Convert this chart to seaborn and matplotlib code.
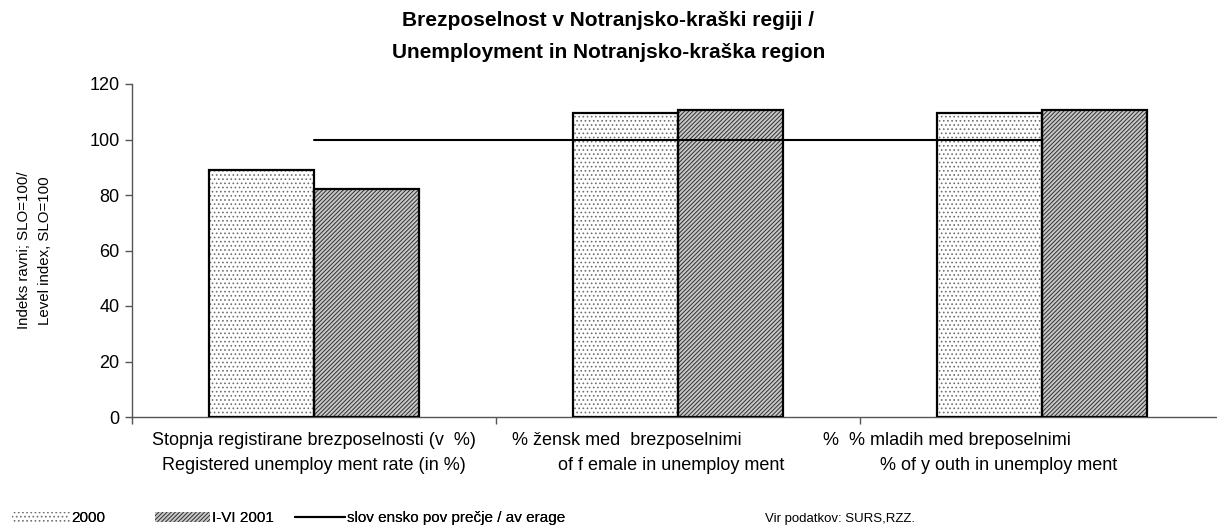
import matplotlib
matplotlib.use("Agg")
import matplotlib.pyplot as plt
from matplotlib.patches import Rectangle, Patch
from matplotlib.lines import Line2D
import seaborn as sns
import pandas as pd

# ---- data ----
categories = ["Stopnja", "Zenske", "Mladi"]
series_names = ["2000", "I-VI 2001"]
values_2000 = [89.0, 109.5, 109.5]
values_2001 = [82.2, 110.6, 110.6]
slo_average = [100, 100, 100]
cat_label_line1 = ["Stopnja registirane brezposelnosti (v  %)",
                   "% žensk med  brezposelnimi",
                   "%  % mladih med breposelnimi"]
cat_label_line2 = ["Registered unemploy ment rate (in %)",
                   "of f emale in unemploy ment",
                   "% of y outh in unemploy ment"]
title_lines = ["Brezposelnost v Notranjsko-kraški regiji /",
               "Unemployment in Notranjsko-kraška region"]
ylabel = "Indeks ravni; SLO=100/\nLevel index, SLO=100"
line_label = "slov ensko pov prečje / av erage"
source_text = "Vir podatkov: SURS,RZZ."
yticks = [0, 20, 40, 60, 80, 100, 120]

df = pd.DataFrame({
    "cat": categories * 2,
    "series": [series_names[0]] * 3 + [series_names[1]] * 3,
    "value": values_2000 + values_2001,
})

sns.set_style("white")
plt.rcParams["font.family"] = ["Liberation Sans", "DejaVu Sans"]
plt.rcParams["hatch.linewidth"] = 0.7
for k in ["text.color", "axes.labelcolor", "xtick.color", "ytick.color"]:
    plt.rcParams[k] = "black"

fig = plt.figure(figsize=(12.17, 5.31), dpi=100)
W, H = 1217, 531
ax = fig.add_axes([132 / W, 1 - 417 / H, 1092 / W, 333 / H])

sns.barplot(data=df, x="cat", y="value", hue="series", order=categories,
            hue_order=series_names, palette=["white", "#cfcfcf"],
            width=0.577, gap=0, ax=ax, legend=False, saturation=1)

styles = [dict(hatch="....", hc="#707070", fc="white"),
          dict(hatch="////////", hc="#303030", fc="#c8c8c8")]
for cont, st in zip(ax.containers, styles):
    for p in cont.patches:
        p.set_facecolor(st["fc"])
        p.set_edgecolor(st["hc"])
        p.set_hatch(st["hatch"])
        p.set_linewidth(0)
        ax.add_patch(Rectangle((p.get_x(), p.get_y()), p.get_width(), p.get_height(),
                               fill=False, edgecolor="black", linewidth=1.6, zorder=3))

# Slovenian average line across category centres
sns.lineplot(x=list(range(len(categories))), y=slo_average, color="black",
             linewidth=1.5, ax=ax, zorder=4)

ax.set_xlim(-0.5, 2.5)
ax.set_ylim(0, 120)
ax.set_yticks(yticks)
ax.set_yticklabels([str(v) for v in yticks], fontsize=13)
ax.set_xticks([-0.5, 0.5, 1.5])
ax.set_xticklabels([])
ax.tick_params(axis="both", direction="out", length=5, width=1, color="#555555",
               left=True, bottom=True, pad=4)
ax.set_xlabel("")
ax.set_ylabel(ylabel, fontsize=10.8, labelpad=27, linespacing=1.6)
for s in ["top", "right"]:
    ax.spines[s].set_visible(False)
for s in ["left", "bottom"]:
    ax.spines[s].set_color("#555555")
    ax.spines[s].set_linewidth(1)

# category labels
line1_x = [0.0, 0.86, 1.74]
line2_x = [0.0, 0.98, 1.88]
tr = ax.get_xaxis_transform()
for i in range(len(categories)):
    ax.text(line1_x[i], -0.072, cat_label_line1[i], transform=tr, ha="center",
            va="center", fontsize=13)
    ax.text(line2_x[i], -0.147, cat_label_line2[i], transform=tr, ha="center",
            va="center", fontsize=13)

# title
fig.text(0.5, 1 - 20 / H, title_lines[0], ha="center", va="center",
         fontsize=15, fontweight="bold")
fig.text(0.5, 1 - 52 / H, title_lines[1], ha="center", va="center",
         fontsize=15, fontweight="bold")

# legend: three entries placed in separate slots
handles = [Patch(facecolor=styles[0]["fc"], edgecolor=styles[0]["hc"], hatch=styles[0]["hatch"], linewidth=0),
           Patch(facecolor=styles[1]["fc"], edgecolor=styles[1]["hc"], hatch=styles[1]["hatch"], linewidth=0),
           Line2D([0], [0], color="black", linewidth=1.5)]
labels = [series_names[0], series_names[1], line_label]
slot_x = [12, 155, 295]
hlen = [3.8, 3.6, 3.3]
for h, lab, sx, hl in zip(handles, labels, slot_x, hlen):
    leg = fig.legend([h], [lab], loc="center left", bbox_to_anchor=(sx / W, 1 - 518 / H),
                     frameon=False, fontsize=11, handlelength=hl, handleheight=0.65,
                     handletextpad=0.1, borderaxespad=0, borderpad=0)
    fig.add_artist(leg)

fig.text(765 / W, 1 - 519 / H, source_text, ha="left", va="center", fontsize=9.5)

fig.savefig("out.png", dpi=100)
